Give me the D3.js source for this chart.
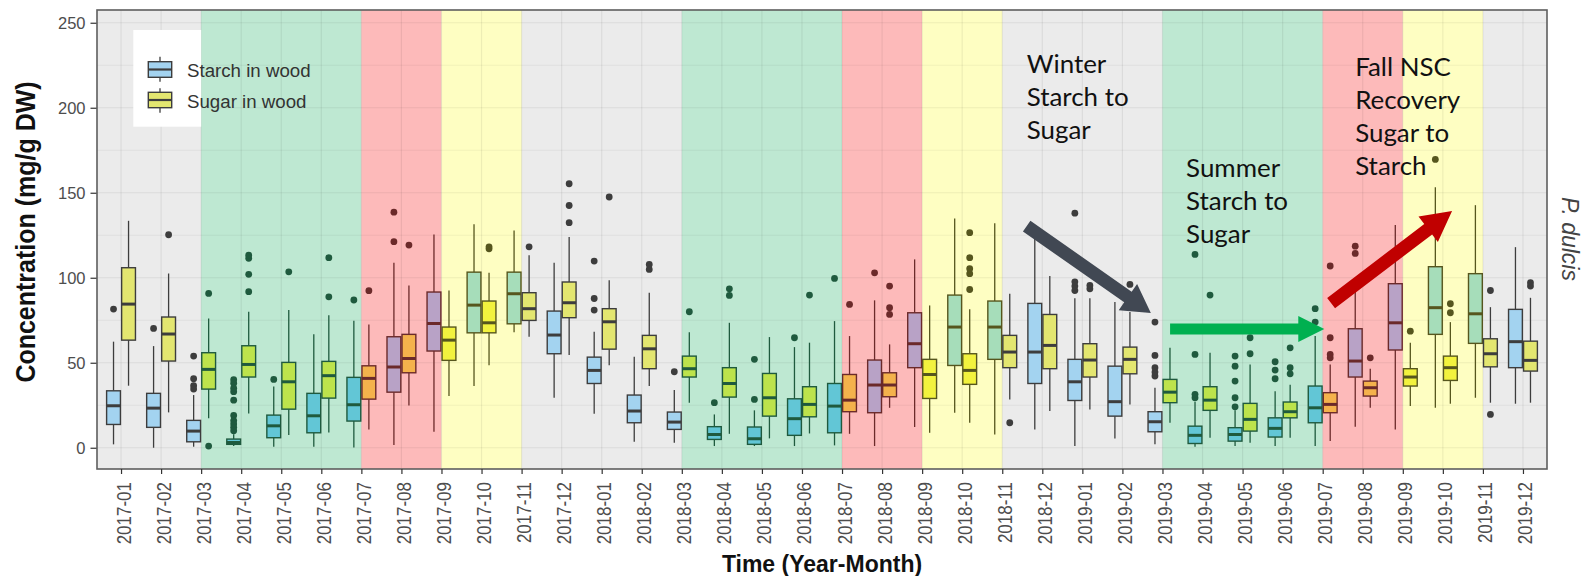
<!DOCTYPE html>
<html><head><meta charset="utf-8">
<script src="https://cdn.jsdelivr.net/npm/d3@7"></script>
<style>body{margin:0;background:#fff}svg{display:block}</style>
</head><body>
<svg id="chart" width="1587" height="576"></svg>
<script>
// ---------------- DATA ----------------
const months = ["2017-01","2017-02","2017-03","2017-04","2017-05","2017-06","2017-07","2017-08","2017-09","2017-10","2017-11","2017-12",
"2018-01","2018-02","2018-03","2018-04","2018-05","2018-06","2018-07","2018-08","2018-09","2018-10","2018-11","2018-12",
"2019-01","2019-02","2019-03","2019-04","2019-05","2019-06","2019-07","2019-08","2019-09","2019-10","2019-11","2019-12"];

const starchLow  = [2,0,0.6,1,0.6,0.6,0.2,1.6,9.4,36.3,68,29.4, 20,3.5,2.9,1,1,1,1.4,1,12.2,20.6,7.8,10.8, 1,5.5,2,0.6,1,1,1,12.4,10.8,23.5,29.4,25.9];
const starchQ1   = [13.7,12,3.5,2,5.9,8.8,15.7,32.7,56.9,67.6,72.9,55.3, 37.8,14.7,10.8,4.9,2,7.3,8.8,20.6,47.1,48.4,52,37.8, 27.8,18.6,9.4,2.5,3.9,6.3,14.7,41.6,57.5,66.7,61.4,47.1];
const starchMed  = [24.7,23.3,9.8,3.1,12.9,18.8,25.3,47.5,73.1,83.9,90.6,66.3, 45.5,21.6,15.1,7.8,5.3,17.1,24.5,36.9,61.2,71,71,56.3, 38.8,27.1,15.3,7.3,7.8,11.4,23.5,51,73.5,82.4,78.8,62.4];
const starchQ3   = [33.5,32,16.1,5.1,19.2,32,41.4,65.3,91.6,103.3,103.3,80.4, 53.3,31,21,12.4,12.2,28.8,37.8,51.6,79.4,89.8,86.3,84.9, 52,48,21.2,12.7,11.8,17.6,36.3,70,96.5,106.5,102.4,81.4];
const starchHigh = [62.4,59.8,31,8,36,66.7,74.7,108.8,125.5,131.4,127.8,108.8, 68.2,53.5,33.9,19.6,22,59.2,74.5,86.7,110.8,134.9,132,129.4, 88,85.7,35.3,27,22,33.3,65.7,93.1,131,153.3,142.7,118];
const starchOut  = [[81.6],[70.2],[53.9,40.6,36.5,34.5],[40,38,35,33,28,19,16,14,12,10],[40.2],[],[86.9],[138.6,121.2],[],[],[],[],
[81,87.8,109.8],[],[44.7],[26.5],[28.4,52],[64.7],[99.6],[102.9],[],[],[],[],
[92.5,95.1,97.6,138],[],[42.2,44.5,47.1,54.3,73.9],[29.4,31.4,54.9,113.7],[24.1,29.4,39.2,48,53.9],[40.6,45.7,50.6],[73.9,81.8],[114.3,118.6],[],[169.6],[],[]];

const sugarLow  = [36.5,20.8,17.3,20.2,7.5,9,10.8,24.9,30.4,48.6,65.3,54.5, 48.6,36.3,26.5,8.2,5.5,8.4,8.2,23.5,8.8,14.7,28.4,21.6, 22.5,25.5,14.7,5.9,2.9,5.9,3.9,23.5,24.5,25.9,26.5,26.5];
const sugarQ1   = [63.3,51,34.5,41.6,22.7,29.2,28.6,44.1,51.4,67.6,74.9,76.5, 58,46.5,41.6,29.8,18.6,18.2,21.2,30,29,37.3,47.1,46.5, 41.6,43.5,26.5,22,9.8,17.6,20.6,30.4,36.3,39.6,47.6,45.1];
const sugarMed  = [84.5,66.9,46.1,49,38.8,42.4,40.8,52.5,63.3,73.5,81.8,85.3, 74.1,58.2,46.5,37.8,29.4,25.5,28,36.9,43.1,45.5,56.3,60.2, 51.6,52,32.7,28,16.7,21.2,25.5,35.3,41.6,47.1,55.3,51.4];
const sugarQ3   = [105.9,76.9,55.9,60,50.2,50.8,48.2,66.7,71,86.3,91.2,97.5, 81.8,66.1,53.9,47.1,43.7,35.9,43.1,44.1,52,55.3,66.1,78.4, 61.2,59.2,40.2,35.9,26.1,26.9,32.4,39.2,46.5,53.9,64.1,62.7];
const sugarHigh = [133.5,102.5,76,80,81,78,72.5,95.5,92.5,102.9,113.3,123.9, 98.6,91.2,68,73.5,65.1,61.8,65.7,60.8,83.7,81.4,90.6,101, 88,79.8,58.8,55.9,49,37,49,46.5,61.8,73.9,82.7,88.2];
const sugarOut  = [[],[125.3],[90.8,1],[91.8,102,111.4,113.3],[103.5],[88.8,111.8],[92.4],[119.2],[],[117,118.2],[118.2],[132.4,142.5,155.3],
[147.5],[104.9,107.8],[80],[89.6,93.5],[],[89.8],[84.3],[78.4,82.4,95.1],[],[93.1,102.4,105.3,111.8,126.5],[14.7],[],
[93.5,95.5],[96.1],[],[89.8],[55.3,64.7],[43.5,47.1,58.8],[52.9,54.9,64.7,106.9],[52.9],[68.6],[79.4,84.7],[19.6,92.5],[95.1,97.1]];

// seasonal background bands (start tick, end tick, type)
const seasonStart = ["2017-03","2017-07","2017-09","2018-03","2018-07","2018-09","2019-03","2019-07","2019-09"];
const seasonEnd   = ["2017-07","2017-09","2017-11","2018-07","2018-09","2018-11","2019-07","2019-09","2019-11"];
const seasonType  = ["green","red","yellow","green","red","yellow","green","red","yellow"];

const yTicks = [0,50,100,150,200,250];
const seriesNames = ["Starch in wood","Sugar in wood"];

// annotation positions in (month index, concentration)
const noteLines = [["Winter","Starch to","Sugar"],["Summer","Starch to","Sugar"],["Fall NSC","Recovery","Sugar to","Starch"]];
const notePos = [[22.61,220.4],[26.59,159.2],[30.81,218.6]];
const arrowFrom = [[22.61,130.4],[26.19,69.8],[30.21,85.1]];
const arrowTo   = [[25.71,79.2],[30.04,69.8],[33.23,139.2]];
const arrowColor = ["#414853","#00B050","#C00000"];

// ---------------- STYLE ----------------
const bandFill = {grey:"#EBEBEB", green:"#BEE8D2", red:"#FDBABA", yellow:"#FEFEC2"};
const palette = {
  grey:   {starch:"#A3D3F0", sugar:"#E3E670", stroke:"#3D3D3D"},
  green:  {starch:"#62C6D6", sugar:"#BDE34C", stroke:"#1F5A3E"},
  red:    {starch:"#B8A2C6", sugar:"#F4B24C", stroke:"#6B2A2A"},
  yellow: {starch:"#A6DDBA", sugar:"#F2F23E", stroke:"#56561E"}
};

const svg = d3.select("#chart");
const L = 97, R = 1547, T = 10, B = 469;
const step = (R - L) / 36.2;
const x = d3.scalePoint().domain(months).range([L + 0.6*step, R - 0.6*step]);
const xi = d3.scaleLinear().domain([0, months.length-1]).range([x(months[0]), x(months[months.length-1])]);
const y = d3.scaleLinear().domain([-12.5, 257.5]).range([B, T]);

// panel background
svg.append("rect").attr("x",L).attr("y",T).attr("width",R-L).attr("height",B-T).attr("fill",bandFill.grey);
// bands
svg.append("g").selectAll("rect").data(seasonStart).join("rect")
  .attr("x",(d)=>x(d)).attr("y",T)
  .attr("width",(d,i)=>x(seasonEnd[i])-x(d)).attr("height",B-T)
  .attr("fill",(d,i)=>bandFill[seasonType[i]]);

// gridlines
const grid = svg.append("g").attr("stroke","rgba(0,0,0,0.065)");
d3.range(0,251,25).forEach(v=>{
  grid.append("line").attr("x1",L).attr("x2",R).attr("y1",y(v)).attr("y2",y(v)).attr("stroke-width", v%50===0?1.2:0.8);
});
months.forEach(m=>{
  grid.append("line").attr("x1",x(m)).attr("x2",x(m)).attr("y1",T).attr("y2",B).attr("stroke-width",1.2);
});

function bandAt(px){
  for (let i=0;i<seasonStart.length;i++){
    if (px>=x(seasonStart[i]) && px<x(seasonEnd[i])) return seasonType[i];
  }
  return "grey";
}

// legend
const lg = svg.append("g");
lg.append("rect").attr("x",133.3).attr("y",30).attr("width",x(seasonStart[0])-133.3).attr("height",96.7).attr("fill","#fff");
const legendKeys = [{fill:palette.grey.starch, top:61.7, bot:77.3, wt:56.7, wb:81.7, ty:76.5},
                    {fill:palette.grey.sugar, top:92.3, bot:107.7, wt:88.3, wb:112.7, ty:107.5}];
legendKeys.forEach((k,i)=>{
  lg.append("line").attr("x1",160).attr("x2",160).attr("y1",k.wt).attr("y2",k.wb).attr("stroke","#3D3D3D").attr("stroke-width",1.3);
  lg.append("rect").attr("x",148.3).attr("y",k.top).attr("width",23.4).attr("height",k.bot-k.top)
    .attr("fill",k.fill).attr("stroke","#3D3D3D").attr("stroke-width",1.4);
  lg.append("line").attr("x1",148.3).attr("x2",171.7).attr("y1",(k.top+k.bot)/2).attr("y2",(k.top+k.bot)/2).attr("stroke","#3D3D3D").attr("stroke-width",2.2);
  lg.append("text").attr("x",187).attr("y",k.ty).text(seriesNames[i])
    .attr("font-family","Liberation Sans, Arial, sans-serif").attr("font-size",18.7).attr("fill","#333");
});

// boxplots
const series = [
  {key:"starch", low:starchLow, q1:starchQ1, med:starchMed, q3:starchQ3, high:starchHigh, out:starchOut, side:-1},
  {key:"sugar",  low:sugarLow,  q1:sugarQ1,  med:sugarMed,  q3:sugarQ3,  high:sugarHigh,  out:sugarOut,  side:1}
];
const bw = step*0.375;
const boxes = svg.append("g");
series.forEach(s=>{
  months.forEach((m,i)=>{
    const cx = x(m) + s.side*bw/2;
    const band = bandAt(cx);
    const pal = palette[band];
    const col = pal.stroke;
    const g = boxes.append("g");
    g.append("line").attr("x1",cx).attr("x2",cx).attr("y1",y(s.high[i])).attr("y2",y(s.q3[i])).attr("stroke",col).attr("stroke-width",1.3);
    g.append("line").attr("x1",cx).attr("x2",cx).attr("y1",y(s.q1[i])).attr("y2",y(s.low[i])).attr("stroke",col).attr("stroke-width",1.3);
    g.append("rect").attr("x",cx-bw/2+0.6).attr("width",bw-1.2)
      .attr("y",y(s.q3[i])).attr("height",Math.max(0.5,y(s.q1[i])-y(s.q3[i])))
      .attr("fill",pal[s.key]).attr("stroke",col).attr("stroke-width",1.4);
    g.append("line").attr("x1",cx-bw/2+0.6).attr("x2",cx+bw/2-0.6).attr("y1",y(s.med[i])).attr("y2",y(s.med[i]))
      .attr("stroke",col).attr("stroke-width",3);
    g.selectAll("circle").data(s.out[i]).join("circle")
      .attr("cx",cx).attr("cy",d=>y(d)).attr("r",3.4).attr("fill",col);
  });
});

// panel border
svg.append("rect").attr("x",L).attr("y",T).attr("width",R-L).attr("height",B-T)
  .attr("fill","none").attr("stroke","#5E5E5E").attr("stroke-width",1.6);

// axes
const axFont = "Liberation Sans, Arial, sans-serif";
const gy = svg.append("g").attr("transform",`translate(${L-0.5},0)`)
  .call(d3.axisLeft(y).tickValues(yTicks).tickSize(6).tickPadding(5));
gy.select(".domain").remove();
gy.selectAll(".tick line").attr("stroke","#333").attr("stroke-width",1.2);
gy.selectAll(".tick text").attr("font-family",axFont).attr("font-size",16.5).attr("fill","#4D4D4D");

const gx = svg.append("g").attr("transform",`translate(0,${B})`)
  .call(d3.axisBottom(x).tickSize(5));
gx.select(".domain").remove();
gx.selectAll(".tick line").attr("stroke","#333").attr("stroke-width",1.2);
gx.selectAll(".tick text")
  .attr("font-family",axFont).attr("font-size",17).attr("fill","#4D4D4D")
  .attr("text-anchor","end").attr("x",0).attr("y",7.5).attr("dy",null)
  .attr("transform","translate(0,13) rotate(-90) scale(1,1.2)");

// titles
svg.append("text").attr("x",(L+R)/2).attr("y",571.5).attr("text-anchor","middle")
  .attr("font-family",axFont).attr("font-weight","bold").attr("font-size",23).attr("fill","#111")
  .text("Time (Year-Month)");
svg.append("text").attr("transform","translate(35,232) rotate(-90) scale(1,1.12)").attr("text-anchor","middle")
  .attr("font-family",axFont).attr("font-weight","bold").attr("font-size",25).attr("fill","#111")
  .text("Concentration (mg/g DW)");
svg.append("text").attr("transform","translate(1562,239) rotate(90)").attr("text-anchor","middle")
  .attr("font-family",axFont).attr("font-style","italic").attr("font-size",23).attr("fill","#444")
  .text("P. dulcis");

// arrows
function arrowPoly(x1,y1,x2,y2,w,hl,hw){
  const dx=x2-x1, dy=y2-y1, len=Math.hypot(dx,dy), ux=dx/len, uy=dy/len, px=-uy, py=ux;
  const bx=x2-ux*hl, by=y2-uy*hl;
  return [[x1+px*w/2,y1+py*w/2],[bx+px*w/2,by+py*w/2],[bx+px*hw/2,by+py*hw/2],[x2,y2],
          [bx-px*hw/2,by-py*hw/2],[bx-px*w/2,by-py*w/2],[x1-px*w/2,y1-py*w/2]];
}
const arrowDims = [[13,28,32],[11,26,26],[13,30,32]];
arrowFrom.forEach((f,i)=>{
  const t = arrowTo[i];
  const [w,hl,hw] = arrowDims[i];
  svg.append("polygon")
    .attr("points",arrowPoly(xi(f[0]),y(f[1]),xi(t[0]),y(t[1]),w,hl,hw).map(p=>p.join(",")).join(" "))
    .attr("fill",arrowColor[i]);
});

// annotation text (fit font size to reference width of "Starch to")
const noteFont = "Lato, 'Open Sans', sans-serif";
const probe = svg.append("text").attr("font-family",noteFont).attr("font-size",100).text("Starch to");
const pw = probe.node().getComputedTextLength();
probe.remove();
const noteSize = 100*102/pw;
noteLines.forEach((lines,i)=>{
  const t = svg.append("text").attr("font-family",noteFont).attr("font-size",noteSize).attr("fill","#111");
  lines.forEach((ln,j)=>{
    t.append("tspan").attr("x",xi(notePos[i][0])).attr("y",y(notePos[i][1]) + j*33).text(ln);
  });
});
</script>
</body></html>
